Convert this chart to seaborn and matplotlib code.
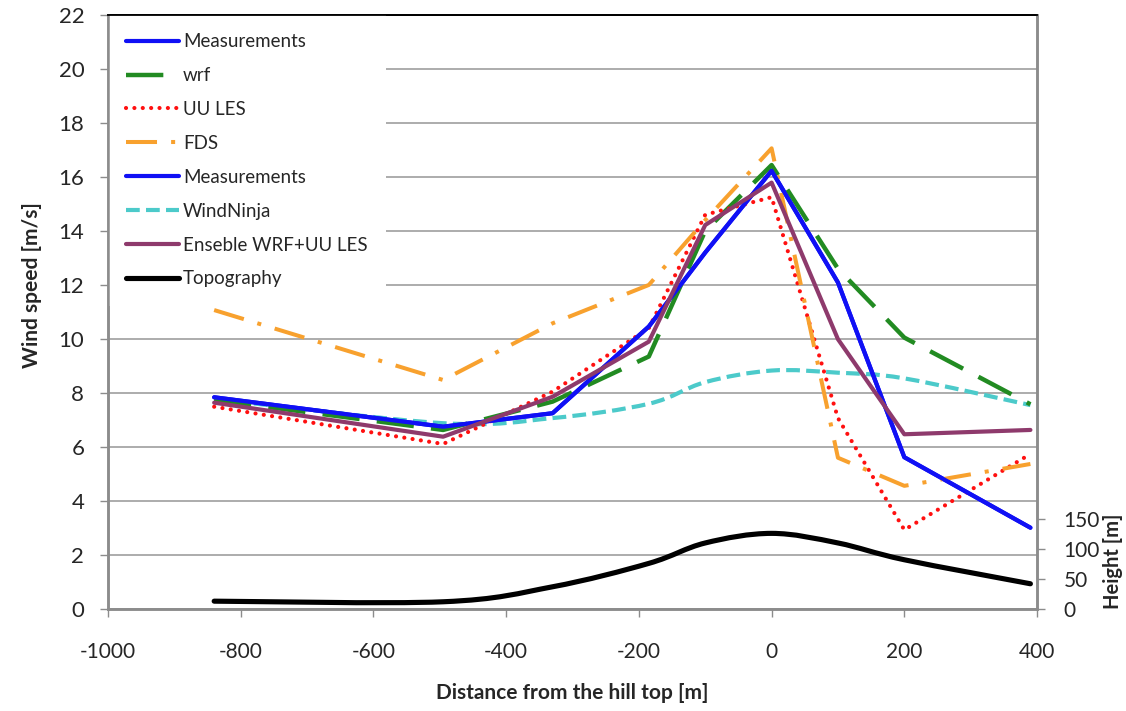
import numpy as np
import matplotlib
matplotlib.use("Agg")
import matplotlib.pyplot as plt
from matplotlib.path import Path
from matplotlib.patches import PathPatch
from matplotlib.lines import Line2D
import seaborn as sns

# Distance from the hill top [m]
distance = [-840, -495, -330, -185, -100, 0, 100, 200, 390]

# Wind speed [m/s] per model / measurement
measurements = [7.84, 6.75, 7.25, 10.46, 13.2, 16.23, 12.09, 5.62, 3.01]
wrf = [7.74, 6.63, 7.68, 9.35, 14.0, 16.44, 12.6, 10.05, 7.58]
uu_les = [7.49, 6.11, 8.05, 10.4, 14.6, 15.25, 7.07, 2.93, 5.74]
fds = [11.07, 8.48, 10.58, 12.0, 14.4, 17.06, 5.6, 4.56, 5.37]
windninja = [7.78, 6.88, 7.07, 7.6, 8.4, 8.83, 8.75, 8.54, 7.55]
ensemble = [7.64, 6.38, 7.86, 9.9, 14.22, 15.79, 9.99, 6.47, 6.63]

# Terrain height [m]
topography = [13, 12, 37, 76, 110, 126, 110, 82, 42]

x_ticks = [-1000, -800, -600, -400, -200, 0, 200, 400]
speed_ticks = list(range(0, 23, 2))
height_ticks = [0, 50, 100, 150]

sns.set_theme(style="white")
plt.rcParams["font.family"] = ["Lato", "DejaVu Sans"]
plt.rcParams["axes.unicode_minus"] = False

fig, ax = plt.subplots(figsize=(11.26, 7.11), dpi=100)
fig.subplots_adjust(left=0.0959, right=0.921, bottom=0.1435, top=0.979)
ax2 = ax.twinx()


def smooth_path(xs, ys):
    """Smoothed (Catmull-Rom style Bezier) path through the data points."""
    pts = np.column_stack([xs, ys]).astype(float)
    n = len(pts)
    verts = [pts[0]]
    codes = [Path.MOVETO]
    for i in range(n - 1):
        p0 = pts[i - 1] if i > 0 else pts[i]
        p1 = pts[i]
        p2 = pts[i + 1]
        p3 = pts[i + 2] if i + 2 < n else pts[i + 1]
        verts += [p1 + (p2 - p0) / 6.0, p2 - (p3 - p1) / 6.0, p2]
        codes += [Path.CURVE4] * 3
    return Path(verts, codes)


BLUE = "#1010F5"
GREEN = "#228B22"
RED = "#FF1010"
ORANGE = "#F8A12E"
CYAN = "#4CCACA"
PURPLE = "#8E3A6C"

styles = {
    "meas": dict(color=BLUE, lw=3.0, linestyle="-"),
    "wrf": dict(color=GREEN, lw=3.2, linestyle=(0, (8.4, 3.9))),
    "uu": dict(color=RED, lw=3.0, linestyle=(0, (0.01, 2.0)), dash_capstyle="round"),
    "fds": dict(color=ORANGE, lw=2.9, linestyle=(0, (7.7, 3.5, 1.0, 3.5))),
    "wn": dict(color=CYAN, lw=3.0, linestyle=(0, (3.3, 1.5))),
    "ens": dict(color=PURPLE, lw=3.0, linestyle="-"),
    "topo": dict(color="black", lw=3.7, linestyle="-"),
}

handles = []


def add_line(values, label, key):
    sns.lineplot(x=distance, y=values, ax=ax, label=label, legend=False,
                 estimator=None, sort=False, **styles[key])
    handles.append(ax.get_lines()[-1])


add_line(measurements, "Measurements", "meas")
add_line(wrf, "wrf", "wrf")
add_line(uu_les, "UU LES", "uu")
add_line(fds, "FDS", "fds")
add_line(measurements, "Measurements", "meas")

# WindNinja drawn as a smoothed line
wn_style = styles["wn"]
ax.add_patch(PathPatch(smooth_path(distance, windninja), fill=False,
                       edgecolor=wn_style["color"], lw=wn_style["lw"],
                       linestyle=wn_style["linestyle"]))
handles.append(Line2D([], [], label="WindNinja", **wn_style))

add_line(ensemble, "Enseble WRF+UU LES", "ens")

# Topography on the secondary (height) axis, smoothed
tp = styles["topo"]
ax2.add_patch(PathPatch(smooth_path(distance, topography), fill=False,
                        edgecolor=tp["color"], lw=tp["lw"], capstyle="round"))
handles.append(Line2D([], [], label="Topography", **tp))

# Axes ranges and ticks
ax.set_xlim(-1000, 400)
ax.set_ylim(0, 22)
ax.set_xticks(x_ticks)
ax.set_xticklabels([str(v) for v in x_ticks])
ax.set_yticks(speed_ticks)
ax.set_yticklabels([str(v) for v in speed_ticks])
ax2.set_ylim(0, 990)
ax2.set_yticks(height_ticks)
ax2.set_yticklabels([str(v) for v in height_ticks])

ax.yaxis.grid(True, color="#a6a6a6", lw=1.3)
ax.xaxis.grid(False)
ax.set_axisbelow(True)

GRAY = "#8c8c8c"
for a in (ax, ax2):
    for side in ("left", "right", "bottom"):
        a.spines[side].set_color(GRAY)
        a.spines[side].set_linewidth(1.8)
    a.spines["top"].set_color("black")
    a.spines["top"].set_linewidth(1.3)

ax.tick_params(axis="y", which="major", direction="out", length=6, width=1,
               color=GRAY, labelsize=16, pad=11, left=True)
ax.tick_params(axis="x", which="major", direction="out", length=6, width=1,
               color=GRAY, labelsize=15, pad=18, bottom=True)
ax2.tick_params(axis="y", which="major", direction="out", length=6, width=1,
                color=GRAY, labelsize=15, pad=13, right=True)

ax.set_xlabel("Distance from the hill top [m]", fontsize=15, fontweight="bold")
ax.set_ylabel("Wind speed [m/s]", fontsize=15, fontweight="bold")
ax2.set_ylabel("Height [m]", fontsize=14.5, fontweight="bold")
ax.xaxis.set_label_coords(0.5, -0.125)
ax.yaxis.set_label_coords(-0.071, 0.545)
ax2.yaxis.set_label_coords(1.071, 0.08)

leg = ax2.legend(handles=handles, labels=[h.get_label() for h in handles],
                 loc="upper left", bbox_to_anchor=(0.0, 1.0), borderaxespad=0.0,
                 fontsize=13.5, frameon=True, fancybox=False, framealpha=1.0,
                 facecolor="white", edgecolor="none", handlelength=2.8,
                 handletextpad=0.22, labelspacing=0.9, borderpad=0.98)
# keep the frame lines visible over the legend box
leg.set_zorder(2)

fig.savefig("out.png", dpi=100, facecolor="white")
